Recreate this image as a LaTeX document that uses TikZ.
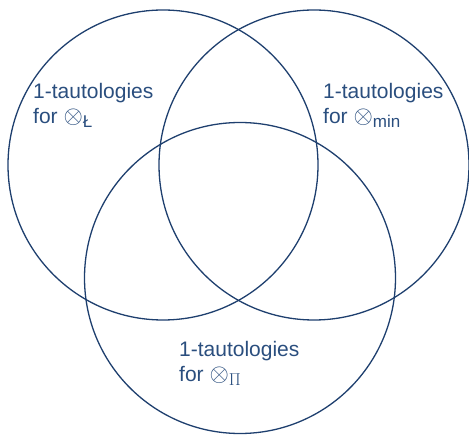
\documentclass[tikz,border=0pt]{standalone}
\usepackage{fontspec}
\setmainfont{Liberation Sans}
\definecolor{ink}{HTML}{1E3F6E}
\definecolor{txt}{HTML}{2A4E7E}
\newcommand{\bigotim}{{\fontsize{25}{25}\selectfont$\otimes$}}
\newcommand{\subtxt}[1]{\raisebox{-3.5pt}{\fontsize{17}{17}\selectfont #1}}
\begin{document}
\begin{tikzpicture}[x=1pt,y=-1pt,
  setcircle/.style={draw=ink,line width=1.3pt},
  setlabel/.style={anchor=north west,inner sep=0pt,align=left,text=txt,
    font=\fontsize{21}{25.5}\selectfont}]
\useasboundingbox (0,0) rectangle (469,435);
\draw[setcircle] (163,165) circle[radius=155];
\draw[setcircle] (314,165) circle[radius=155];
\draw[setcircle] (240,278) circle[radius=155.5];
\node[setlabel] (L) at (33,83) {1-tautologies\\for \bigotim\subtxt{Ł}};
\node[setlabel] (M) at (323,83) {1-tautologies\\for \bigotim\subtxt{min}};
\node[setlabel] (P) at (179,341) {1-tautologies\\for \bigotim\subtxt{$\Pi$}};
\end{tikzpicture}
\end{document}
